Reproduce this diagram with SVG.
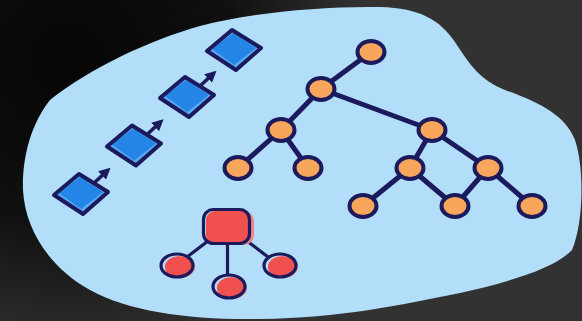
<svg xmlns="http://www.w3.org/2000/svg" width="582" height="321" viewBox="0 0 582 321">
  <defs>
    <radialGradient id="bgDark" cx="70" cy="60" r="300" gradientUnits="userSpaceOnUse">
      <stop offset="0" stop-color="#050505" stop-opacity="1"/>
      <stop offset="0.55" stop-color="#0a0a0a" stop-opacity="0.85"/>
      <stop offset="1" stop-color="#0a0a0a" stop-opacity="0"/>
    </radialGradient>
    <marker id="arrow" viewBox="0 0 10 10" refX="7" refY="5" markerWidth="3.2" markerHeight="3.2" orient="auto">
      <path d="M0,0 L10,5 L0,10 Z" fill="#1B1A5C"/>
    </marker>
    <polygon id="sqOuter" points="-27,1 -2,-20 27,-2 2,20"/>
    <polygon id="sqInner" points="-22,-1 -1,-17 22,-2 0,15"/>
    <style>
      .sq-back { fill: #5AAAF2; }
      .sq-front { fill: #2585E6; }
      .sq-line { fill: none; stroke: #1B1A5C; stroke-width: 4; stroke-linejoin: round; }
      .edge { stroke: #1B1A5C; stroke-width: 5; stroke-linecap: round; fill: none; }
      .tnode { fill: #F8A65B; stroke: #1B1A5C; stroke-width: 4; }
      .redline { stroke: #1B1A5C; stroke-width: 3.2; fill: none; }
      .redfill { fill: #F0504E; }
      .redshade { fill: #F2818B; }
      .redout { fill: none; stroke: #1B1A5C; stroke-width: 3.2; }
      .arrowline { stroke: #1B1A5C; stroke-width: 3.6; fill: none; }
    </style>
  </defs>

  <!-- background -->
  <rect x="0" y="0" width="582" height="321" fill="#323232"/>
  <rect x="0" y="0" width="582" height="321" fill="url(#bgDark)"/>

  <!-- blob -->
  <path id="blob" fill="#B3DEF9" d="M 50,100 C 90,68 150,40 200,26 C 250,13 320,6 380,7 C 420,8 440,20 455,42 C 470,65 480,80 505,90 C 540,103 565,115 575,140 C 585,170 583,225 572,250 C 555,268 510,282 460,293 C 400,305 340,318 260,319 C 190,320 130,312 90,290 C 50,268 25,230 23,190 C 22,160 30,125 50,100 Z"/>

  <!-- connectors -->
  <g id="connectors">
    <!-- list arrows -->
    <line class="arrowline" x1="93" y1="184" x2="108" y2="170" marker-end="url(#arrow)"/>
    <line class="arrowline" x1="146" y1="135.5" x2="161" y2="121.5" marker-end="url(#arrow)"/>
    <line class="arrowline" x1="199" y1="87" x2="214" y2="73" marker-end="url(#arrow)"/>
    <!-- tree edges -->
    <line class="edge" x1="371" y1="52" x2="321" y2="89"/>
    <line class="edge" x1="321" y1="89" x2="281" y2="130"/>
    <line class="edge" x1="321" y1="89" x2="432" y2="130"/>
    <line class="edge" x1="281" y1="130" x2="238" y2="168"/>
    <line class="edge" x1="281" y1="130" x2="308" y2="168"/>
    <line class="edge" x1="432" y1="130" x2="410" y2="168"/>
    <line class="edge" x1="432" y1="130" x2="488" y2="168"/>
    <line class="edge" x1="410" y1="168" x2="363" y2="206"/>
    <line class="edge" x1="410" y1="168" x2="455" y2="206"/>
    <line class="edge" x1="488" y1="168" x2="455" y2="206"/>
    <line class="edge" x1="488" y1="168" x2="532" y2="206"/>
    <!-- red cluster edges -->
    <line class="redline" x1="208" y1="241" x2="187" y2="257"/>
    <line class="redline" x1="227.5" y1="245" x2="227.5" y2="276"/>
    <line class="redline" x1="247" y1="241" x2="268" y2="257"/>
  </g>

  <!-- linked list squares -->
  <g id="sq1" transform="translate(81,194)">
    <use href="#sqOuter" class="sq-back"/><use href="#sqInner" class="sq-front"/><use href="#sqOuter" class="sq-line"/>
  </g>
  <g id="sq2" transform="translate(134,145.5)">
    <use href="#sqOuter" class="sq-back"/><use href="#sqInner" class="sq-front"/><use href="#sqOuter" class="sq-line"/>
  </g>
  <g id="sq3" transform="translate(187,97)">
    <use href="#sqOuter" class="sq-back"/><use href="#sqInner" class="sq-front"/><use href="#sqOuter" class="sq-line"/>
  </g>
  <g id="sq4" transform="translate(234,50)">
    <use href="#sqOuter" class="sq-back"/><use href="#sqInner" class="sq-front"/><use href="#sqOuter" class="sq-line"/>
  </g>

  <!-- tree nodes -->
  <g id="t-root"><ellipse class="tnode" cx="371" cy="52" rx="13.5" ry="11"/></g>
  <g id="t-a"><ellipse class="tnode" cx="321" cy="89" rx="13.5" ry="11"/></g>
  <g id="t-b"><ellipse class="tnode" cx="281" cy="130" rx="13.5" ry="11"/></g>
  <g id="t-c"><ellipse class="tnode" cx="432" cy="130" rx="13.5" ry="11"/></g>
  <g id="t-d"><ellipse class="tnode" cx="238" cy="168" rx="13.5" ry="11"/></g>
  <g id="t-e"><ellipse class="tnode" cx="308" cy="168" rx="13.5" ry="11"/></g>
  <g id="t-f"><ellipse class="tnode" cx="410" cy="168" rx="13.5" ry="11"/></g>
  <g id="t-g"><ellipse class="tnode" cx="488" cy="168" rx="13.5" ry="11"/></g>
  <g id="t-h"><ellipse class="tnode" cx="363" cy="206" rx="13.5" ry="11"/></g>
  <g id="t-i"><ellipse class="tnode" cx="455" cy="206" rx="13.5" ry="11"/></g>
  <g id="t-j"><ellipse class="tnode" cx="532" cy="206" rx="13.5" ry="11"/></g>

  <!-- red cluster -->
  <g id="r-box">
    <rect class="redshade" x="207" y="211" width="47" height="34" rx="10"/>
    <rect class="redfill" x="206" y="211" width="45" height="33" rx="9"/>
    <rect class="redout" x="203.5" y="209.5" width="46" height="34" rx="10"/>
  </g>
  <g id="r-left">
    <ellipse class="redshade" cx="180" cy="267" rx="15" ry="11"/>
    <ellipse class="redfill" cx="179" cy="267" rx="14" ry="10.5"/>
    <ellipse class="redout" cx="177" cy="265.5" rx="16" ry="11.5"/>
  </g>
  <g id="r-mid">
    <ellipse class="redshade" cx="232" cy="288" rx="15" ry="11"/>
    <ellipse class="redfill" cx="231" cy="288" rx="14" ry="10.5"/>
    <ellipse class="redout" cx="229" cy="286.5" rx="16" ry="11.5"/>
  </g>
  <g id="r-right">
    <ellipse class="redshade" cx="283" cy="267" rx="15" ry="11"/>
    <ellipse class="redfill" cx="282" cy="267" rx="14" ry="10.5"/>
    <ellipse class="redout" cx="280" cy="265.5" rx="16" ry="11.5"/>
  </g>
</svg>
